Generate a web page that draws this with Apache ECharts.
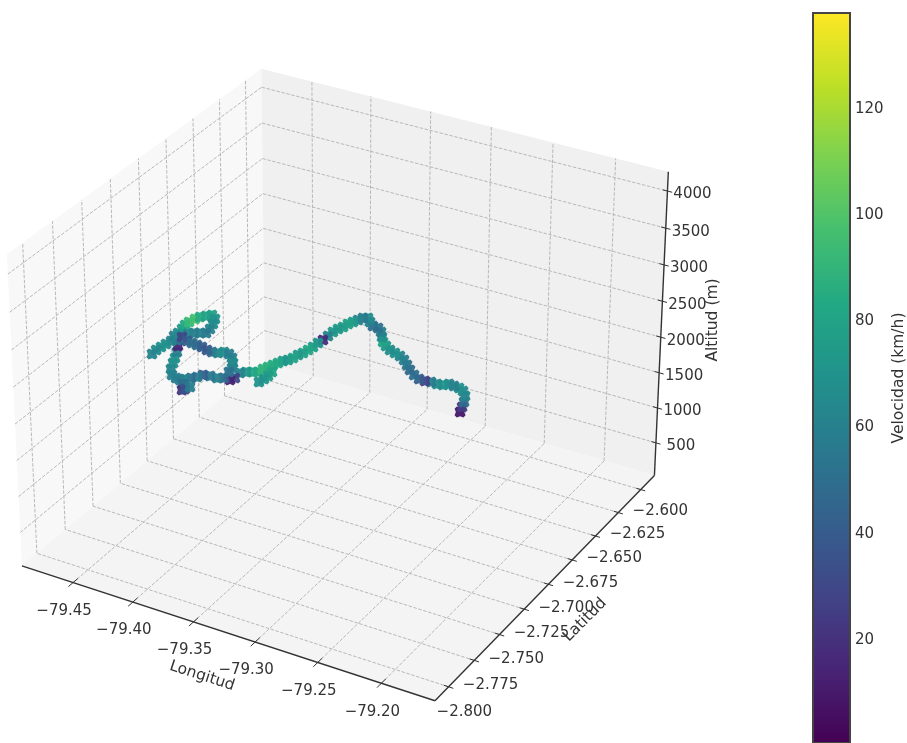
<!DOCTYPE html><html><head><meta charset="utf-8"><style>html,body{margin:0;background:#fff}#c{width:907px;height:743px}</style>
<script src="https://cdn.jsdelivr.net/npm/echarts@6/dist/echarts.min.js"></script></head><body><div id="c"></div>
<script>
const lons=[-79.1674,-79.1684,-79.1694,-79.1716,-79.1754,-79.1791,-79.1823,-79.1859,-79.1883,-79.1914,-79.1951,-79.1987,-79.2024,-79.2068,-79.2114,-79.2153,-79.2193,-79.2237,-79.2281,-79.2324,-79.2364,-79.2402,-79.2436,-79.2465,-79.2499,-79.2537,-79.2571,-79.2599,-79.2618,-79.2638,-79.2664,-79.2701,-79.2730,-79.2767,-79.2797,-79.2819,-79.2842,-79.2872,-79.2895,-79.2930,-79.2965,-79.3007,-79.3042,-79.3084,-79.3133,-79.3175,-79.3217,-79.3259,-79.3301,-79.3337,-79.3227,-79.3249,-79.3279,-79.3314,-79.3420,-79.3542,-79.3652,-79.3727,-79.3797,-79.3875,-79.3944,-79.4029,-79.4107,-79.4156,-79.4213,-79.4270,-79.4321,-79.4388,-79.4464,-79.4516,-79.4521,-79.4547,-79.4553,-79.4565,-79.4617,-79.4675,-79.4712,-79.4748,-79.4784,-79.4807,-79.4639,-79.4609,-79.4586,-79.4570,-79.4540,-79.4498,-79.4454,-79.4396,-79.4338,-79.4288,-79.4263,-79.4271,-79.4293,-79.4330,-79.4368,-79.4397,-79.4411,-79.4378,-79.4332,-79.4286,-79.4240,-79.4186,-79.4141,-79.4069,-79.4039,-79.3994,-79.3918,-79.3848,-79.3791,-79.3807,-79.4300,-79.4289,-79.4278,-79.4262];
const lats=[-2.7608,-2.7577,-2.7546,-2.7509,-2.7481,-2.7472,-2.7480,-2.7482,-2.7509,-2.7527,-2.7537,-2.7549,-2.7559,-2.7551,-2.7533,-2.7513,-2.7492,-2.7476,-2.7469,-2.7463,-2.7452,-2.7433,-2.7402,-2.7376,-2.7363,-2.7365,-2.7351,-2.7336,-2.7360,-2.7382,-2.7397,-2.7399,-2.7410,-2.7413,-2.7424,-2.7443,-2.7462,-2.7472,-2.7491,-2.7496,-2.7501,-2.7498,-2.7503,-2.7501,-2.7490,-2.7487,-2.7485,-2.7482,-2.7480,-2.7485,-2.7483,-2.7494,-2.7497,-2.7503,-2.7437,-2.7364,-2.7297,-2.7260,-2.7228,-2.7197,-2.7184,-2.7155,-2.7134,-2.7135,-2.7129,-2.7122,-2.7113,-2.7077,-2.7032,-2.6985,-2.6960,-2.6913,-2.6888,-2.6865,-2.6817,-2.6810,-2.6818,-2.6826,-2.6833,-2.6847,-2.6820,-2.6815,-2.6802,-2.6791,-2.6786,-2.6776,-2.6777,-2.6784,-2.6792,-2.6819,-2.6866,-2.6885,-2.6898,-2.6913,-2.6927,-2.6950,-2.6990,-2.6981,-2.6986,-2.6990,-2.6995,-2.7008,-2.7012,-2.7036,-2.7013,-2.7018,-2.7074,-2.7142,-2.7215,-2.7225,-2.7109,-2.7131,-2.7116,-2.7087];
const alts=[3400,3420,3440,3460,3470,3480,3500,3510,3520,3540,3560,3570,3590,3610,3630,3650,3670,3680,3690,3700,3720,3730,3740,3760,3780,3790,3810,3830,3850,3840,3820,3780,3740,3700,3660,3620,3580,3540,3500,3450,3400,3350,3300,3250,3200,3150,3100,3050,3000,2950,3000,2950,2900,2850,2850,2700,2550,2400,2300,2250,2200,2150,2100,2050,2000,1950,1900,1850,1800,1800,1850,1850,1900,1950,1950,1900,1850,1800,1750,1700,2000,2050,2100,2150,2200,2250,2300,2350,2400,2400,2400,2350,2300,2300,2300,2300,2300,2250,2250,2250,2250,2250,2250,2300,2300,2300,2350,2400,2450,2400,1850,1800,1800,1800];
const speeds=[8,25,50,62,65,68,60,62,70,66,58,28,42,50,48,52,58,62,70,66,72,80,68,60,52,50,60,66,56,62,74,78,76,74,72,62,18,70,76,82,78,74,80,76,72,82,84,86,88,90,80,76,72,70,82,72,62,30,14,45,60,55,42,58,50,62,60,58,60,62,66,70,60,15,55,62,68,70,65,62,60,66,72,82,92,96,85,80,78,70,66,62,55,60,58,62,30,40,50,48,42,38,46,62,68,58,60,66,62,52,50,22,35,58];
const lonTicks=[-79.45,-79.40,-79.35,-79.30,-79.25,-79.20];
const latTicks=[-2.775,-2.750,-2.725,-2.700,-2.675,-2.650,-2.625,-2.600,-2.575];
const latLabels=[-2.800,-2.775,-2.750,-2.725,-2.700,-2.675,-2.650,-2.625,-2.600];
const altTicks=[500,1000,1500,2000,2500,3000,3500,4000];
const speedTicks=[20,40,60,80,100,120];
const viridis=['#440154','#482475','#414487','#355f8d','#2a788e','#21918c','#22a884','#44bf70','#7ad151','#bddf26','#fde725'];
const lonCal=0.0015,latCal=0.002,altCal=27;
const xl=[-79.495+lonCal,-79.16+lonCal],yl=[-2.79+latCal,-2.5615+latCal],zl=[altCal,4230+altCal];
const box=[1.1905,1.1905,.8929],el=30*Math.PI/180,az=-60*Math.PI/180;
const w=[Math.cos(el)*Math.cos(az),Math.cos(el)*Math.sin(az),Math.sin(el)];
const r=[-w[1],w[0],0].map(v=>v/Math.hypot(w[0],w[1]));
const u=[w[1]*r[2]-w[2]*r[1],w[2]*r[0]-w[0]*r[2],w[0]*r[1]-w[1]*r[0]];
const dot=(a,b)=>a[0]*b[0]+a[1]*b[1]+a[2]*b[2];
function P3(lon,lat,alt){
  const n=[(lon-xl[0])/(xl[1]-xl[0]),(lat-yl[0])/(yl[1]-yl[0]),(alt-zl[0])/(zl[1]-zl[0])];
  const p=n.map((v,i)=>(v-.5)*box[i]);const f=1/(10-dot(p,w));
  return [344+3975*f*dot(p,r),369.5-3975*f*dot(p,u)];
}
const [x0,x1]=xl,[y0,y1]=yl,[z0,z1]=zl,dy=y1-y0,dx=x1-x0;
const panes=[
 {c:'#f8f8f8',p:[[x0,y0,z0],[x0,y1,z0],[x0,y1,z1],[x0,y0,z1]]},
 {c:'#f0f0f0',p:[[x0,y1,z0],[x1,y1,z0],[x1,y1,z1],[x0,y1,z1]]},
 {c:'#f4f4f4',p:[[x0,y0,z0],[x1,y0,z0],[x1,y1,z0],[x0,y1,z0]]}];
const polyData=panes.map(q=>({value:q.p.flatMap(v=>P3(...v)),itemStyle:{color:q.c}}));
const seg=(a,b)=>[...P3(...a),...P3(...b)];
const gridSegs=[];
lonTicks.forEach(v=>{gridSegs.push(seg([v,y0,z0],[v,y1,z0]),seg([v,y1,z0],[v,y1,z1]))});
latTicks.forEach(v=>{gridSegs.push(seg([x1,v,z0],[x0,v,z0]),seg([x0,v,z0],[x0,v,z1]))});
altTicks.forEach(v=>{gridSegs.push(seg([x0,y0,v],[x0,y1,v]),seg([x0,y1,v],[x1,y1,v]))});
const axisSegs=[seg([x0,y0,z0],[x1,y0,z0]),seg([x1,y0,z0],[x1,y1,z0]),seg([x1,y1,z0],[x1,y1,z1])];
const tickSegs=[];
lonTicks.forEach(v=>tickSegs.push(seg([v,y0-.018*dy,z0],[v,y0+.018*dy,z0])));
latTicks.forEach(v=>tickSegs.push(seg([x1-.011*dx,v,z0],[x1+.011*dx,v,z0])));
altTicks.forEach(v=>tickSegs.push(seg([x1-.011*dx,y1,v],[x1+.011*dx,y1,v])));
const MINUS='\u2212';
const texts=[];
lonTicks.forEach(v=>{const p=P3(v,y0,z0);texts.push({t:MINUS+Math.abs(v).toFixed(2),x:p[0]-9,y:p[1]+28.5,r:0,s:15})});
latLabels.forEach(v=>{const p=P3(x1,v,z0);texts.push({t:MINUS+Math.abs(v).toFixed(3),x:p[0]+42,y:p[1]-1.5,r:0,s:15})});
altTicks.forEach(v=>{const p=P3(x1,y1,v);texts.push({t:String(v),x:p[0]+25,y:p[1]+3.5,r:0,s:15})});
texts.push({t:'Longitud',x:202,y:676,r:-18,s:15.5},{t:'Latitud',x:585,y:620,r:45,s:15.5},{t:'Altitud (m)',x:713,y:320,r:90,s:15.5});
const lineItem=(color,width,dash)=>(params,api)=>{
  const a=api.coord([api.value(0),api.value(1)]),b=api.coord([api.value(2),api.value(3)]);
  return {type:'line',shape:{x1:a[0],y1:a[1],x2:b[0],y2:b[1]},style:{stroke:color,lineWidth:width,lineDash:dash||null,fill:null}};
};
const common={type:'custom',silent:true,clip:false,animation:false,xAxisIndex:0,yAxisIndex:0};
const scatterData=lons.map((v,i)=>[...P3(v+lonCal,lats[i]+latCal,alts[i]+altCal),speeds[i]]);
const xMark='path://M2,0 L5,1.2 L8,0 L10,2 L8.8,5 L10,8 L8,10 L5,8.8 L2,10 L0,8 L1.2,5 L0,2 Z';
const chart=echarts.init(document.getElementById('c'),null,{renderer:'canvas'});
chart.setOption({
 animation:false,backgroundColor:'#fff',
 grid:[{left:0,top:0,width:907,height:743,show:false,outerBoundsMode:'none'},
       {left:813,top:13,width:37,height:730,show:true,z:10,backgroundColor:'transparent',borderColor:'#444',borderWidth:2,outerBoundsMode:'none'}],
 xAxis:[{type:'value',min:0,max:907,show:false,gridIndex:0},{type:'value',min:0,max:1,show:false,gridIndex:1}],
 yAxis:[{type:'value',min:0,max:743,inverse:true,show:false,gridIndex:0},
  {type:'value',gridIndex:1,position:'right',min:0.6,max:138,splitLine:{show:false},
   axisLine:{show:false},
   axisTick:{show:true,length:5,lineStyle:{color:'#444',width:1},customValues:speedTicks},
   axisLabel:{color:'#333',fontFamily:'DejaVu Sans',fontSize:15,margin:5,customValues:speedTicks},
   name:'Velocidad (km/h)',nameLocation:'middle',nameRotate:90,nameGap:41,
   nameTextStyle:{color:'#333',fontFamily:'DejaVu Sans',fontSize:15.5}}],
 visualMap:{type:'continuous',min:0.6,max:138,dimension:2,seriesIndex:4,left:813,top:13,itemWidth:37,itemHeight:730,padding:0,
   calculable:false,hoverLink:false,text:null,showLabel:false,inRange:{color:viridis},textStyle:{color:'transparent',fontSize:1}},
 series:[
  {...common,data:polyData,renderItem:(params,api)=>{
    const pts=[0,2,4,6].map(i=>api.coord([api.value(i),api.value(i+1)]));
    return {type:'polygon',shape:{points:pts},style:{fill:api.visual('color')}};
  }},
  {...common,data:gridSegs,renderItem:lineItem('#b8b8b8',1,[3.5,1.6])},
  {...common,data:axisSegs,renderItem:lineItem('#333',1.4)},
  {...common,data:tickSegs,renderItem:lineItem('#333',1)},
  {type:'scatter',data:scatterData,symbol:xMark,symbolSize:11,silent:true,animation:false,itemStyle:{opacity:.95},large:false,xAxisIndex:0,yAxisIndex:0,z:5},
  {...common,z:6,data:texts.map((t,i)=>[t.x,t.y,i]),renderItem:(params,api)=>{
    const c=api.coord([api.value(0),api.value(1)]),t=texts[api.value(2)];
    return {type:'text',x:c[0],y:c[1],rotation:t.r*Math.PI/180,style:{text:t.t,fontFamily:'DejaVu Sans',fontSize:t.s,fill:'#333',align:'center',verticalAlign:'middle'}};
  }}
 ]
});
</script></body></html>
